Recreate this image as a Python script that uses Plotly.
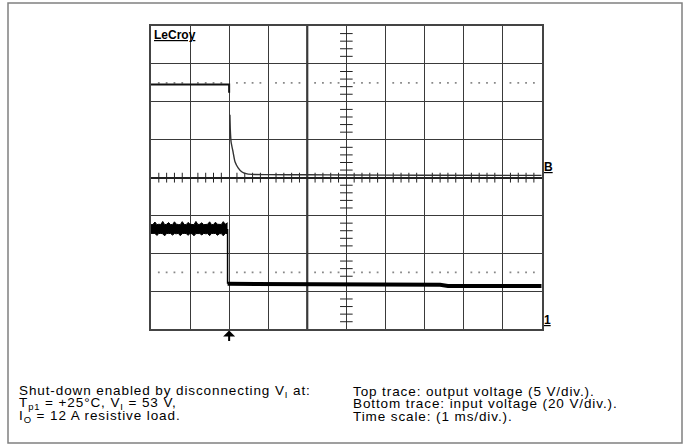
import numpy as np
import plotly.graph_objects as go

W, H = 685, 446

# ---------------- data ----------------
# time axis: 1 ms/div, trigger (disconnect) at t = 0, screen spans -2 .. 8 ms
# Top trace: output voltage, 5 V/div, reference "B" at the centre line
out_pre_t = [-2.0, -1.6, -1.2, -0.8, -0.4, -0.03, 0.0, 0.0]
out_pre_v = [12.3, 12.25, 12.3, 12.27, 12.3, 12.27, 12.27, 11.2]
out_decay_t = [0.02, 0.03, 0.05, 0.10, 0.15, 0.23, 0.33, 0.46, 0.66, 1.0, 2.0, 3.0, 5.0, 8.0]
out_decay_v = [8.3, 6.3, 4.7, 3.4, 2.1, 1.3, 0.75, 0.5, 0.42, 0.4, 0.38, 0.35, 0.32, 0.3]

# Bottom trace: input voltage, 20 V/div, reference "1" at the bottom edge
in_pre_t = [-2.00, -1.95, -1.90, -1.85, -1.80, -1.75, -1.70, -1.65, -1.60, -1.55,
            -1.50, -1.45, -1.40, -1.35, -1.30, -1.25, -1.20, -1.15, -1.10, -1.05,
            -1.00, -0.95, -0.90, -0.85, -0.80, -0.75, -0.70, -0.65, -0.60, -0.55,
            -0.50, -0.45, -0.40, -0.35, -0.30, -0.25, -0.20, -0.15, -0.10, -0.04]
in_pre_hi = [55.2, 55.3, 56.6, 55.2, 55.4, 55.3, 56.9, 55.2, 55.4, 56.3,
             55.3, 55.2, 56.7, 55.4, 55.3, 55.2, 56.8, 55.3, 55.2, 56.4,
             55.4, 55.3, 55.2, 56.9, 55.3, 55.4, 56.2, 55.2, 55.3, 55.4,
             56.7, 55.2, 55.3, 56.5, 55.4, 55.2, 55.3, 56.8, 55.4, 56.2]
in_pre_lo = [50.6, 50.5, 50.6, 49.5, 50.5, 50.6, 50.4, 49.3, 50.6, 50.5,
             50.6, 49.7, 50.5, 50.4, 50.6, 49.4, 50.5, 50.6, 50.5, 49.6,
             50.6, 50.4, 49.3, 50.5, 50.6, 50.5, 49.8, 50.6, 50.4, 50.5,
             49.4, 50.6, 50.5, 50.6, 49.6, 50.4, 50.5, 49.3, 50.6, 50.5]
in_step_t = [-0.04, -0.04]
in_step_v = [52.9, 24.0]
in_post_t = [-0.04, 0.5, 2.0, 3.5, 5.4, 5.6, 8.0]
in_post_v = [24.0, 23.9, 23.75, 23.6, 23.5, 22.9, 22.85]

left_lines = ["Shut-down enabled by disconnecting V<sub>I</sub> at:",
              "T<sub>p1</sub> = +25°C, V<sub>I</sub> = 53 V,",
              "I<sub>O</sub> = 12 A resistive load."]
right_lines = ["Top trace: output voltage (5 V/div.).",
               "Bottom trace: input voltage (20 V/div.).",
               "Time scale: (1 ms/div.)."]

# ---------------- geometry helpers ----------------
def px(x):
    return x / W

def py(y):
    return 1 - y / H

X0, X1 = 151.0, 541.7
Y0, Y1 = 26.0, 329.3

fig = go.Figure()

# minor tick marks on the centre axes and dotted reference lines
minor_t = [v for v in np.round(np.arange(-2, 8.0001, 0.2), 2) if abs(v - round(v)) > 1e-6]
minor_v = [v for v in np.round(np.arange(-20, 20.0001, 1.0), 2) if abs(v / 5 - round(v / 5)) > 1e-6]

fig.add_trace(go.Scatter(x=minor_t, y=[0] * len(minor_t), mode="markers",
                         marker=dict(symbol="line-ns", size=7, line=dict(color="#222", width=1)),
                         hoverinfo="skip", showlegend=False))
fig.add_trace(go.Scatter(x=[3] * len(minor_v), y=minor_v, mode="markers",
                         marker=dict(symbol="line-ew", size=9, line=dict(color="#222", width=1)),
                         hoverinfo="skip", showlegend=False))
for lvl in (12.5, -12.5):
    fig.add_trace(go.Scatter(x=minor_t, y=[lvl] * len(minor_t), mode="markers",
                             marker=dict(symbol="square", size=1.8, color="#888"),
                             hoverinfo="skip", showlegend=False))

# top trace
fig.add_trace(go.Scatter(x=out_pre_t, y=out_pre_v, mode="lines",
                         line=dict(color="#111", width=2), showlegend=False))
fig.add_trace(go.Scatter(x=out_decay_t, y=out_decay_v, mode="lines",
                         line=dict(color="#333", width=1.4, shape="spline", smoothing=0.6),
                         showlegend=False))

# bottom trace
fig.add_trace(go.Scatter(x=in_pre_t, y=in_pre_lo, mode="lines", yaxis="y2",
                         line=dict(color="#000", width=1), showlegend=False))
fig.add_trace(go.Scatter(x=in_pre_t, y=in_pre_hi, mode="lines", yaxis="y2",
                         line=dict(color="#000", width=1), fill="tonexty",
                         fillcolor="#000", showlegend=False))
fig.add_trace(go.Scatter(x=in_step_t, y=in_step_v, mode="lines", yaxis="y2",
                         line=dict(color="#000", width=1.5), showlegend=False))
fig.add_trace(go.Scatter(x=in_post_t, y=in_post_v, mode="lines", yaxis="y2",
                         line=dict(color="#000", width=4), showlegend=False))

shapes = [
    # outer frame
    dict(type="rect", xref="paper", yref="paper", x0=px(8), x1=px(682), y0=py(443), y1=py(3),
         line=dict(color="#808080", width=1.5), layer="below"),
    # heavier division line
    dict(type="line", xref="x", yref="paper", x0=2, x1=2, y0=py(Y1), y1=py(Y0),
         line=dict(color="#111", width=2), layer="below"),
]

annotations = [
    dict(text="<b><u>LeCroy</u></b>", xref="paper", yref="paper", x=px(151.5), y=py(35),
         xanchor="left", yanchor="middle", showarrow=False,
         font=dict(family="Liberation Sans", size=12, color="#000")),
    dict(text="<b><u>B</u></b>", xref="paper", yref="paper", x=px(541.5), y=py(167),
         xanchor="left", yanchor="middle", showarrow=False,
         font=dict(family="Liberation Sans", size=12, color="#000")),
    dict(text="<b><u>1</u></b>", xref="paper", yref="paper", x=px(541.5), y=py(320),
         xanchor="left", yanchor="middle", showarrow=False,
         font=dict(family="Liberation Sans", size=12, color="#000")),
    dict(text="", xref="x", yref="paper", x=0, y=py(330.5), ax=0, ay=12,
         showarrow=True, arrowhead=1, arrowsize=1.0, arrowwidth=2, arrowcolor="#000"),
]
SPACED = '<span style="letter-spacing:0.9px">{}</span>'
line_y = [391.5, 403.8, 416.0]
for txt, yy in zip(left_lines, line_y):
    annotations.append(dict(text=SPACED.format(txt), xref="paper", yref="paper", x=px(17), y=py(yy),
                            xanchor="left", yanchor="middle", showarrow=False,
                            font=dict(family="Liberation Sans", size=13.5, color="#000")))
for txt, yy in zip(right_lines, line_y):
    annotations.append(dict(text=SPACED.format(txt), xref="paper", yref="paper", x=px(350.5), y=py(yy),
                            xanchor="left", yanchor="middle", showarrow=False,
                            font=dict(family="Liberation Sans", size=13.5, color="#000")))

grid_col = "#3a3a3a"
fig.update_layout(
    width=W, height=H, margin=dict(l=0, r=0, t=0, b=0),
    paper_bgcolor="white", plot_bgcolor="white",
    xaxis=dict(range=[-2, 8], domain=[px(X0), px(X1)], dtick=1, tick0=0,
               showgrid=True, gridcolor=grid_col, gridwidth=1, zeroline=False,
               showticklabels=False, ticks="", showline=True, mirror=True,
               linecolor="#444", linewidth=1.5, fixedrange=True),
    yaxis=dict(range=[-20, 20], domain=[py(Y1), py(Y0)], dtick=5, tick0=0,
               showgrid=True, gridcolor=grid_col, gridwidth=1, zeroline=True,
               zerolinecolor="#222", zerolinewidth=1.5,
               showticklabels=False, ticks="", showline=True, mirror=True,
               linecolor="#444", linewidth=1.5, fixedrange=True),
    yaxis2=dict(range=[0, 160], overlaying="y", showgrid=False, zeroline=False,
                showticklabels=False, ticks="", showline=False, fixedrange=True),
    shapes=shapes, annotations=annotations,
)

fig.write_html("out.html", config={"displayModeBar": False},
               post_script="document.body.style.margin='0';document.body.style.padding='0';")
